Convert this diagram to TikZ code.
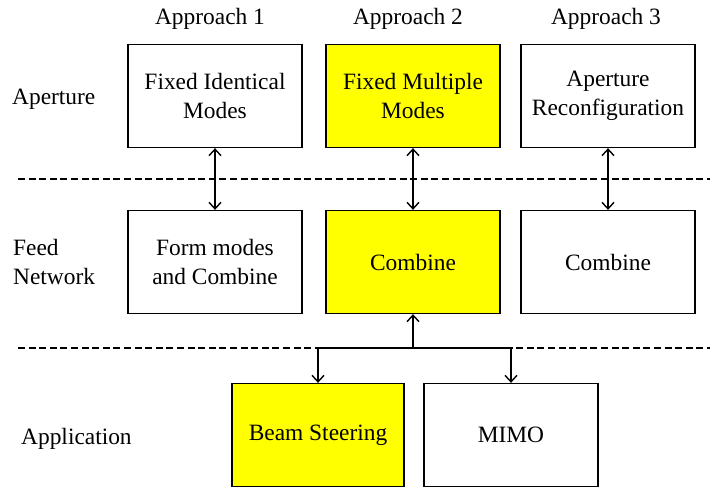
\documentclass[tikz,border=0pt]{standalone}
\usepackage{fontspec}
\setmainfont{Liberation Serif}
\usetikzlibrary{arrows.meta}
\definecolor{hlyellow}{RGB}{255,255,0}
\begin{document}
\begin{tikzpicture}[x=1pt,y=-1pt,
  txt/.style={font=\fontsize{23.4}{28.5}\selectfont},
  blk/.style={txt,draw=black,line width=1.3pt,align=center,inner sep=0pt,
    minimum width=174pt,minimum height=103pt,fill=white},
  hl/.style={blk,fill=hlyellow},
  sep/.style={line width=1.3pt,dash pattern=on 7pt off 3.6pt},
  tip/.tip={Straight Barb[length=6.5pt,width=12pt,line width=1.4pt]},
  link/.style={line width=1.4pt,-tip},
  both/.style={line width=1.4pt,tip-tip},
  side/.style={txt,anchor=base west,inner sep=0pt,align=left}]
\useasboundingbox (0,0) rectangle (710,487);

% layer separators
\draw[sep] (18,179) -- (710,179);
\draw[sep] (18,348) -- (710,348);

% column headings
\node[txt,anchor=base,inner sep=0pt] (h1) at (210,25) {Approach 1};
\node[txt,anchor=base,inner sep=0pt] (h2) at (408,25) {Approach 2};
\node[txt,anchor=base,inner sep=0pt] (h3) at (606,25) {Approach 3};

% row headings
\node[side] (l1) at (12,105) {Aperture};
\node[side,anchor=west] (l2) at (13,262) {Feed\\Network};
\node[side] (l3) at (21,444) {Application};

% aperture row
\node[blk] (a1) at (215,96) {Fixed Identical\\Modes};
\node[hl]  (a2) at (413,96) {Fixed Multiple\\Modes};
\node[blk] (a3) at (608,96) {Aperture\\Reconfiguration};

% feed network row
\node[blk] (f1) at (215,262) {Form modes\\and Combine};
\node[hl]  (f2) at (413,262) {Combine};
\node[blk] (f3) at (608,262) {Combine};

% application row
\node[hl,minimum width=172pt]  (p1) at (318,435) {Beam Steering};
\node[blk] (p2) at (511,435) {MIMO};

% links between aperture and feed network
\draw[both] (a1) -- (f1);
\draw[both] (a2) -- (f2);
\draw[both] (a3) -- (f3);

% feed network to applications
\coordinate (j) at (413,348);
\coordinate (jl) at (p1.north |- j);
\coordinate (jr) at (p2.north |- j);
\draw[line width=1.4pt] (jl) -- (jr);
\draw[link] (j) -- (f2.south);
\draw[link] (jl) -- (p1.north);
\draw[link] (jr) -- (p2.north);
\end{tikzpicture}
\end{document}
